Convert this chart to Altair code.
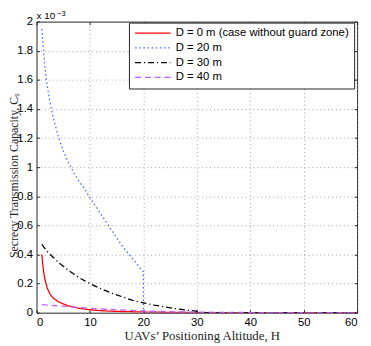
import altair as alt
import pandas as pd

# ---- data (capacity values in units of 1e-3) ----
names = ["D = 0 m (case without guard zone)", "D = 20 m", "D = 30 m", "D = 40 m"]
colors = ["#ff0000", "#4a6cff", "#000000", "#c35cff"]
dashes = [[1, 0], [1.6, 2.6], [6, 3, 1.2, 3], [6, 4]]

H_D0 = [1, 1.2, 1.5, 2, 2.5, 3, 4, 5, 6, 8, 10, 12, 15, 20, 25, 30, 35, 60]
C_D0 = [0.40, 0.32, 0.24, 0.17, 0.13, 0.105, 0.077, 0.06, 0.047, 0.03, 0.02,
        0.014, 0.009, 0.005, 0.002, 0.001, 0, 0]

H_D20 = [1, 1.25, 1.5, 1.75, 2, 2.5, 3, 4, 5, 6, 7, 8, 9, 10, 12, 14, 16, 18,
         20, 20, 60]
C_D20 = [1.95, 1.83, 1.72, 1.63, 1.56, 1.45, 1.36, 1.22, 1.11, 1.03, 0.96,
         0.90, 0.85, 0.79, 0.68, 0.57, 0.46, 0.37, 0.28, 0, 0]

H_D30 = [1, 2, 3, 4, 5, 6, 8, 10, 12, 14, 16, 18, 20, 22, 24, 26, 28, 30, 30,
         60]
C_D30 = [0.47, 0.42, 0.385, 0.35, 0.32, 0.29, 0.24, 0.20, 0.165, 0.135, 0.11,
         0.085, 0.068, 0.052, 0.04, 0.028, 0.018, 0.01, 0, 0]

H_D40 = [1, 5, 10, 15, 20, 25, 30, 40, 50, 60]
C_D40 = [0.055, 0.045, 0.03, 0.02, 0.012, 0.007, 0.004, 0.001, 0, 0]

x_ticks = [0, 10, 20, 30, 40, 50, 60]
y_ticks = [0, 0.2, 0.4, 0.6, 0.8, 1.0, 1.2, 1.4, 1.6, 1.8, 2.0]

rows = []
for name, hs, cs in zip(names, [H_D0, H_D20, H_D30, H_D40],
                        [C_D0, C_D20, C_D30, C_D40]):
    for i, (h, c) in enumerate(zip(hs, cs)):
        rows.append({"H": h, "C": c, "series": name, "order": i})
df = pd.DataFrame(rows)

xscale = alt.Scale(domain=[0, 60], nice=False)
yscale = alt.Scale(domain=[0, 2], nice=False)

legend = alt.Legend(
    title=None, orient="none", legendX=94, legendY=1,
    symbolType="M-1,0H7", symbolSize=81, symbolStrokeWidth=1.3,
    labelFont="Liberation Sans", labelFontSize=11.5, labelColor="black",
    labelOffset=31, labelLimit=400, strokeColor="#222", fillColor="white",
    padding=5, rowPadding=2,
)

lines = alt.Chart(df).mark_line(strokeWidth=1.3, clip=True).encode(
    x=alt.X("H:Q", scale=xscale,
            axis=alt.Axis(values=x_ticks, title="UAVs’ Positioning Altitude, H",
                          titleFont="Liberation Serif", titleFontSize=13,
                          titleFontWeight="normal", titleColor="#222",
                          titleX=168, titleY=27, titleBaseline="alphabetic",
                          titleAlign="center",
                          labelFont="Liberation Sans", labelFontSize=11.5,
                          labelColor="black", labelPadding=4,
                          ticks=False, domain=False, grid=True,
                          gridDash=[1, 3], gridColor="#888", gridWidth=0.8)),
    y=alt.Y("C:Q", scale=yscale,
            axis=alt.Axis(values=y_ticks, format="~g",
                          title="Secrecy Transmission Capacity, Cₛ",
                          titleFont="Liberation Serif", titleFontSize=12,
                          titleFontWeight="normal", titleColor="#222",
                          titleX=-19, titleY=156, titleAngle=270,
                          titleBaseline="alphabetic", titleAlign="center",
                          labelFont="Liberation Sans", labelFontSize=11.5,
                          labelColor="black", labelPadding=4,
                          ticks=False, domain=False, grid=True,
                          gridDash=[1, 3], gridColor="#888", gridWidth=0.8)),
    color=alt.Color("series:N", scale=alt.Scale(domain=names, range=colors),
                    legend=legend),
    strokeDash=alt.StrokeDash("series:N",
                              scale=alt.Scale(domain=names, range=dashes),
                              legend=legend),
    order="order:Q",
)


def tick_axis(orient, values):
    return alt.Axis(orient=orient, values=values, labels=False, title=None,
                    ticks=True, tickSize=3, tickColor="#222", tickWidth=1,
                    offset=-3, domain=False, grid=False)


ticks_tr = alt.Chart(df).mark_line(strokeOpacity=0).encode(
    x=alt.X("H:Q", scale=xscale, axis=tick_axis("top", x_ticks)),
    y=alt.Y("C:Q", scale=yscale, axis=tick_axis("right", y_ticks)),
    detail="series:N",
)
ticks_bl = alt.Chart(df).mark_line(strokeOpacity=0).encode(
    x=alt.X("H:Q", scale=xscale, axis=tick_axis("bottom", x_ticks)),
    y=alt.Y("C:Q", scale=yscale, axis=tick_axis("left", y_ticks)),
    detail="series:N",
)

exp_base = alt.Chart(pd.DataFrame({"t": ["x 10"]})).mark_text(
    align="left", baseline="alphabetic", font="Liberation Sans", fontSize=10,
    color="black").encode(x=alt.value(0), y=alt.value(-3), text="t:N")
exp_sup = alt.Chart(pd.DataFrame({"t": ["−3"]})).mark_text(
    align="left", baseline="alphabetic", font="Liberation Sans", fontSize=7.5,
    color="black").encode(x=alt.value(21), y=alt.value(-5.5), text="t:N")

chart = alt.layer(lines, ticks_tr, ticks_bl, exp_base, exp_sup).resolve_scale(
    x="independent", y="independent"
).properties(
    width=326, height=296,
    autosize=alt.AutoSizeParams(type="none"),
    padding={"left": 29, "top": 11, "right": 6, "bottom": 31},
).configure_view(stroke="#222", strokeWidth=1)

chart.save("out.html", embed_options={"renderer": "svg", "actions": False})
